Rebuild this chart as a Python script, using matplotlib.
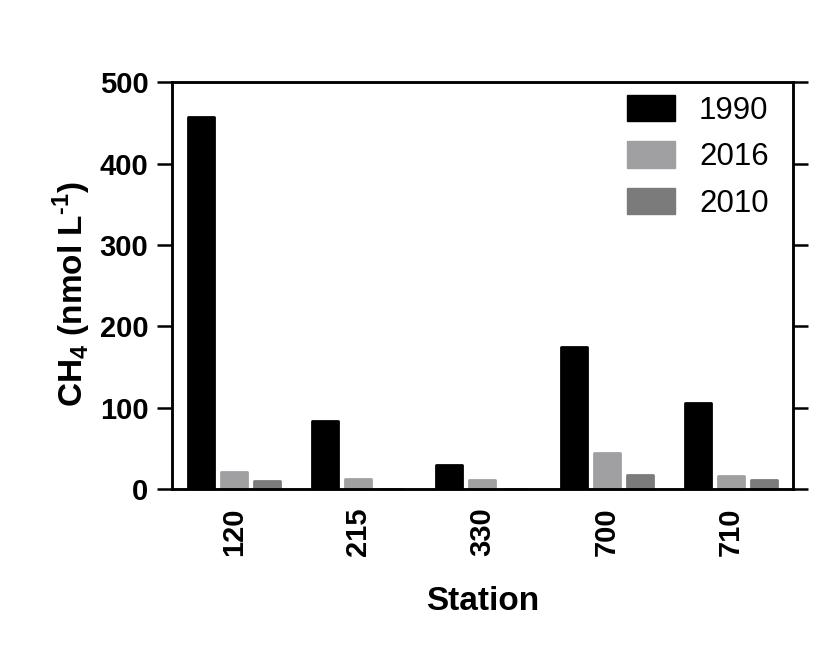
import numpy as np
import matplotlib.pyplot as plt
from matplotlib.patches import Patch

plt.rcParams['font.family'] = ['Liberation Sans', 'DejaVu Sans']
plt.rcParams['mathtext.fontset'] = 'custom'
plt.rcParams['mathtext.rm'] = 'Liberation Sans'
plt.rcParams['mathtext.bf'] = 'Liberation Sans:bold'

stations = ["120", "215", "330", "700", "710"]
years = ["1990", "2016", "2010"]
ch4_1990 = [457, 83, 29, 174, 106]
ch4_2016 = [21, 12, 11, 44, 16]
ch4_2010 = [10, 0, 0, 17, 11]
colors = ["#000000", "#a0a0a2", "#7b7b7b"]

fig = plt.figure(figsize=(8.25, 6.57), dpi=100)
ax = fig.add_axes([0.2085, 0.2557, 0.7525, 0.6193])

x = np.arange(len(stations))
width = 0.21
offsets = [-0.266, 0.0, 0.266]
series = [ch4_1990, ch4_2016, ch4_2010]
for vals, off, c in zip(series, offsets, colors):
    bars = ax.bar(x + off, vals, width, color=c, edgecolor=c, linewidth=2)
    for b in bars:
        b.set_joinstyle("round")

ax.set_xlim(-0.5, 4.5)
ax.set_ylim(0, 500)
ax.set_yticks(np.arange(0, 501, 100))
ax.set_xticks(x)
ax.set_xticklabels(stations, rotation=90, fontweight="bold", fontsize=21)
for lbl in ax.get_yticklabels():
    lbl.set_fontweight("bold")
    lbl.set_fontsize(21)
ax.tick_params(axis="x", length=0, pad=13)
ax.tick_params(axis="y", direction="out", length=11, width=1.8, pad=6)

# right-side ticks without labels
ax2 = ax.twinx()
ax2.set_ylim(0, 500)
ax2.set_yticks(np.arange(0, 501, 100))
ax2.set_yticklabels([])
ax2.tick_params(axis="y", direction="out", length=11, width=1.8)

for a in (ax, ax2):
    for s in a.spines.values():
        s.set_linewidth(1.8)

ax.set_xlabel("Station", fontsize=24, fontweight="bold", labelpad=22)
ax.set_ylabel("CH$_\\mathbf{4}$ (nmol L$^{\\mathbf{\u20101}}$)", fontsize=24,
              fontweight="bold")
ax.yaxis.set_label_coords(-0.127, 0.48)

handles = [Patch(facecolor=c, edgecolor=c, joinstyle="round") for c in colors]
ax.legend(handles, years, loc="upper right", bbox_to_anchor=(0.981, 1.0),
          frameon=False, fontsize=22.5,
          handlelength=1.55, handleheight=0.92, labelspacing=0.5, handletextpad=0.75,
          borderaxespad=0.0)

fig.savefig("out.png", dpi=100)
